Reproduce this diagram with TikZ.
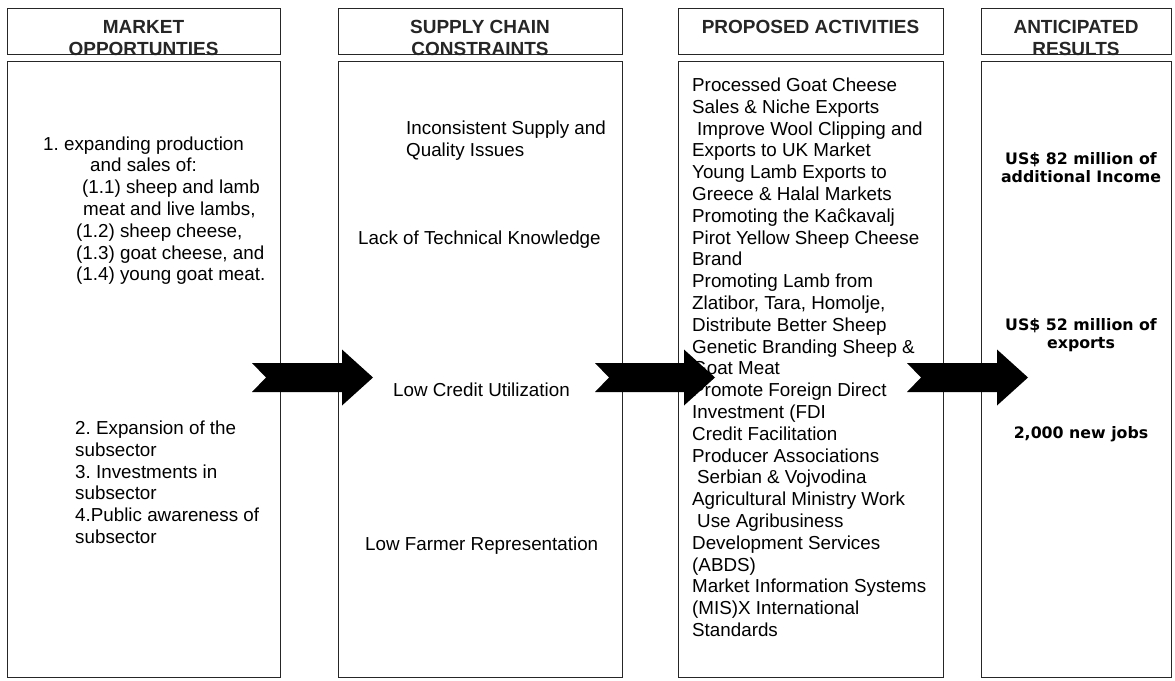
\documentclass[tikz,border=0pt]{standalone}
\usepackage{fontspec}
\setmainfont{Liberation Sans}
\newfontfamily\resultfamily{DejaVu Sans}
\usetikzlibrary{calc}
\frenchspacing

% type sizes (1 unit = 1pt)
\newcommand\bodytext{\fontsize{18.8}{21.8}\selectfont}
\newcommand\headtext{\bfseries\fontsize{19}{22.7}\selectfont}
\newcommand\resulttext{\resultfamily\bfseries\fontsize{15.8}{18}\selectfont}

\tikzset{
  panel/.style={draw=black!85, line width=0.9pt, fill=white, inner sep=0pt,
    anchor=north west},
  headbox/.style={panel, minimum height=46pt},
  bodybox/.style={panel, minimum height=616pt},
  headlabel/.style={font=\headtext, align=center, inner sep=0pt, text=black!85},
  bodyblock/.style={font=\bodytext, align=left, inner sep=0pt, anchor=north west},
  bodyline/.style={font=\bodytext, inner sep=0pt, anchor=base west},
  resultblock/.style={font=\resulttext, align=center, inner sep=0pt},
}

% notched block arrow from #1 (tail) to #2 (tip)
\newcommand\blockarrow[2]{%
  \fill[black] let \p1=(#1), \p2=(#2) in
    (\x1,\y1+14.5pt) -- (\x2-31pt,\y1+14.5pt) -- (\x2-31pt,\y1+28pt)
    -- (\x2,\y1) -- (\x2-31pt,\y1-28pt) -- (\x2-31pt,\y1-14.5pt)
    -- (\x1,\y1-14.5pt) -- (\x1+14pt,\y1) -- cycle;}

\begin{document}
\begin{tikzpicture}[x=1pt, y=-1pt]
\useasboundingbox (0,0) rectangle (1175,680);
\fill[white] (0,0) rectangle (1175,680);

% column headers
\node[headbox, minimum width=273pt] (h1) at (7,8.3) {};
\node[headbox, minimum width=284pt] (h2) at (338,8.3) {};
\node[headbox, minimum width=265pt] (h3) at (678,8.3) {};
\node[headbox, minimum width=190pt] (h4) at (981,8.3) {};

% column bodies
\node[bodybox, minimum width=273pt] (b1) at (7,61) {};
\node[bodybox, minimum width=284pt] (b2) at (338,61) {};
\node[bodybox, minimum width=265pt] (b3) at (678,61) {};
\node[bodybox, minimum width=190pt] (b4) at (981,61) {};

% header titles
\node[headlabel, anchor=north] (t1) at (143.5,17.1) {\strut MARKET\\OPPORTUNTIES};
\node[headlabel, anchor=north] (t2) at (480,17.1) {\strut SUPPLY CHAIN\\CONSTRAINTS};
\node[headlabel, anchor=base] (t3) at (810.5,33) {PROPOSED ACTIVITIES};
\node[headlabel, anchor=north] (t4) at (1076,17.1) {\strut ANTICIPATED\\RESULTS};

% market opportunities
\node[bodyblock] (m1) at (43,134.7) {\strut 1. expanding production\\
  \hspace*{47pt}and sales of:\\
  \hspace*{39pt}(1.1) sheep and lamb\\
  \hspace*{40pt}meat and live lambs,\\
  \hspace*{33pt}(1.2) sheep cheese,\\
  \hspace*{33pt}(1.3) goat cheese, and\\
  \hspace*{33pt}(1.4) young goat meat.};
\node[bodyblock] (m2) at (75,419) {\strut 2. Expansion of the\\
  subsector\\
  3. Investments in\\
  subsector\\
  4.Public awareness of\\
  subsector};

% supply chain constraints
\node[bodyblock] (s1) at (406,119) {\strut Inconsistent Supply and\\Quality Issues};
\node[bodyline] (s2) at (358,244) {Lack of Technical Knowledge};
\node[bodyline] (s3) at (393,396) {Low Credit Utilization};
\node[bodyline] (s4) at (365,550) {Low Farmer Representation};

% proposed activities
\node[bodyblock] (p1) at (692,76) {\strut Processed Goat Cheese\\
  Sales \& Niche Exports\\
  \hspace*{5pt}Improve Wool Clipping and\\
  Exports to UK Market\\
  Young Lamb Exports to\\
  Greece \& Halal Markets\\
  Promoting the Kaĉkavalj\\
  Pirot Yellow Sheep Cheese\\
  Brand\\
  Promoting Lamb from\\
  Zlatibor, Tara, Homolje,\\
  Distribute Better Sheep\\
  Genetic Branding Sheep \&\\
  Goat Meat\\
  Promote Foreign Direct\\
  Investment (FDI\\
  Credit Facilitation\\
  Producer Associations\\
  \hspace*{5pt}Serbian \& Vojvodina\\
  Agricultural Ministry Work\\
  \hspace*{5pt}Use Agribusiness\\
  Development Services\\
  (ABDS)\\
  Market Information Systems\\
  (MIS)X International\\
  Standards};

% anticipated results
\node[resultblock, anchor=north] (r1) at (1081,152.1) {\strut US\$ 82 million of\\additional Income};
\node[resultblock, anchor=north] (r2) at (1081,318.1) {\strut US\$ 52 million of\\exports};
\node[resultblock, anchor=base] (r3) at (1081,438.5) {2,000 new jobs};

% flow arrows between the columns
\coordinate (a1s) at (252,377.5);
\coordinate (a1e) at (373,377.5);
\coordinate (a2s) at (595,377.5);
\coordinate (a2e) at (715,377.5);
\coordinate (a3s) at (907,377.5);
\coordinate (a3e) at (1028,377.5);
\blockarrow{a1s}{a1e}
\blockarrow{a2s}{a2e}
\blockarrow{a3s}{a3e}
\end{tikzpicture}
\end{document}
